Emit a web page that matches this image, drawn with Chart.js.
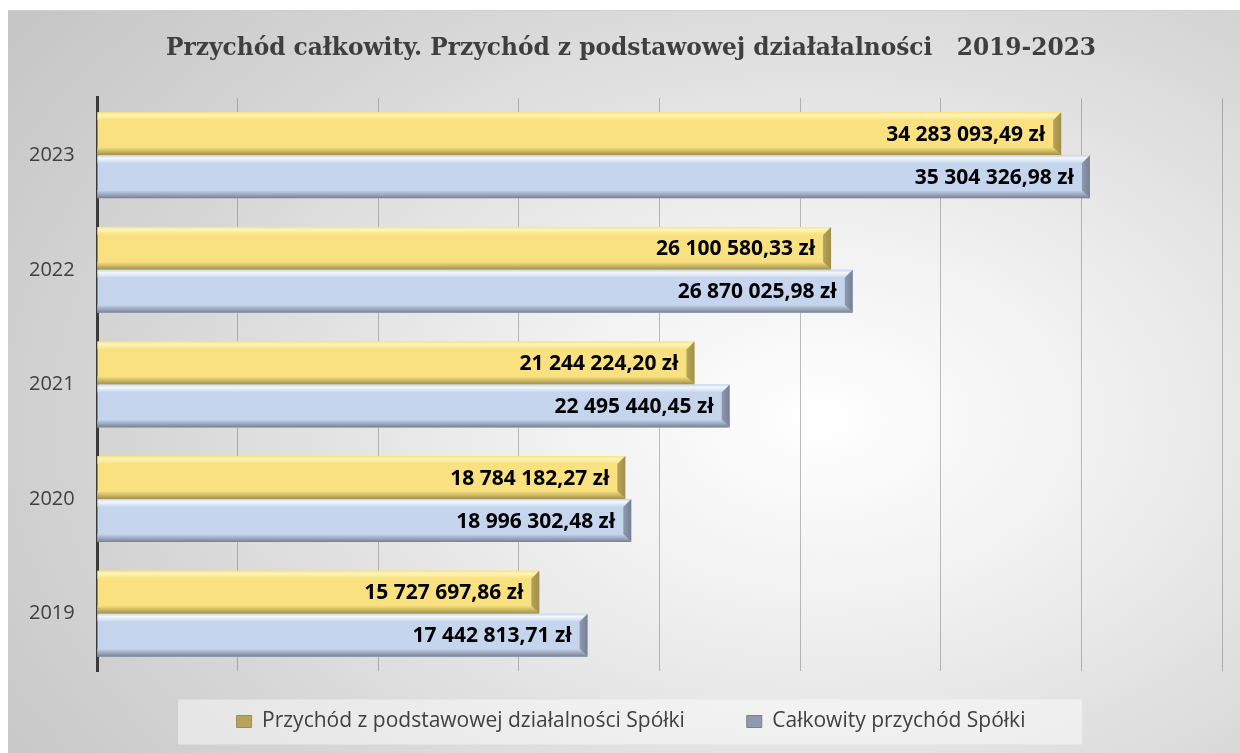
<!DOCTYPE html>
<html>
<head>
<meta charset="utf-8">
<script src="https://cdn.jsdelivr.net/npm/chart.js@4/dist/chart.umd.min.js"></script>
<style>
  html, body { margin: 0; padding: 0; background: #ffffff; }
  #wrap {
    position: absolute; left: 8px; top: 10px; width: 1232px; height: 743px;
    background: radial-gradient(ellipse 80% 90% at 66% 55%, #ffffff 0%, #f1f1f1 28%, #d6d6d6 70%, #c6c6c6 100%);
    border-top: 1px solid #d0d0d0;
  }
</style>
</head>
<body>
<div id="wrap"><canvas id="myChart" width="1232" height="743"></canvas></div>
<script>
const years = ['2023', '2022', '2021', '2020', '2019'];
const coreRevenue = [34283093.49, 26100580.33, 21244224.20, 18784182.27, 15727697.86];
const totalRevenue = [35304326.98, 26870025.98, 22495440.45, 18996302.48, 17442813.71];

const titleText = 'Przychód całkowity. Przychód z podstawowej działałalności   2019-2023';
const coreLabel = 'Przychód z podstawowej działalności Spółki';
const totalLabel = 'Całkowity przychód Spółki';

const yellow = { base: '#f8e17e', light: '#fef5b8', dark: '#a08e4a', end: '#b7a35a' };
const blue = { base: '#c5d5ee', light: '#f5f8fd', dark: '#768092', end: '#8f9ab0' };

const legendPad = 40;
const legendFont = 21;

function fmt(v) {
    const parts = v.toFixed(2).split('.');
    return parts[0].replace(/\B(?=(\d{3})+(?!\d))/g, ' ') + ',' + parts[1] + ' zł';
}

// bevel look of the bars + value labels
const bevelPlugin = {
    id: 'bevel',
    afterDatasetsDraw(chart) {
        const ctx = chart.ctx;
        chart.data.datasets.forEach((ds, di) => {
            const meta = chart.getDatasetMeta(di);
            const c = ds.bevel;
            meta.data.forEach((bar, i) => {
                const l = bar.base, r = bar.x;
                const t = bar.y - bar.height / 2, b = bar.y + bar.height / 2;
                const bv = 8;
                ctx.save();
                let g = ctx.createLinearGradient(0, t, 0, t + bv);
                g.addColorStop(0, c.base);
                g.addColorStop(0.35, c.light);
                g.addColorStop(1, c.base);
                ctx.fillStyle = g;
                ctx.beginPath();
                ctx.moveTo(l, t); ctx.lineTo(r, t); ctx.lineTo(r - bv, t + bv); ctx.lineTo(l, t + bv);
                ctx.closePath(); ctx.fill();

                g = ctx.createLinearGradient(0, b - bv, 0, b);
                g.addColorStop(0, c.base);
                g.addColorStop(1, c.dark);
                ctx.fillStyle = g;
                ctx.beginPath();
                ctx.moveTo(l, b); ctx.lineTo(r, b); ctx.lineTo(r - bv, b - bv); ctx.lineTo(l, b - bv);
                ctx.closePath(); ctx.fill();

                g = ctx.createLinearGradient(r - bv, 0, r, 0);
                g.addColorStop(0, c.end);
                g.addColorStop(1, c.dark);
                ctx.fillStyle = g;
                ctx.beginPath();
                ctx.moveTo(r, t); ctx.lineTo(r, b); ctx.lineTo(r - bv, b - bv); ctx.lineTo(r - bv, t + bv);
                ctx.closePath(); ctx.fill();

                ctx.fillStyle = '#000000';
                ctx.font = 'bold 21px "Open Sans"';
                ctx.textAlign = 'right';
                ctx.textBaseline = 'middle';
                ctx.fillText(fmt(ds.data[i]), r - 16, bar.y + 1);
                ctx.restore();
            });
        });
    }
};

// light box behind the legend
const legendBox = {
    id: 'legendBox',
    beforeDraw(chart) {
        const lg = chart.legend;
        if (!lg) return;
        const ctx = chart.ctx;
        const cy = lg.top + legendPad + legendFont / 2;
        ctx.save();
        ctx.fillStyle = 'rgba(255,255,255,0.45)';
        ctx.fillRect(170, cy - 22, 904, 45);
        ctx.restore();
    }
};

const ctx = document.getElementById('myChart').getContext('2d');

const data = {
    labels: years,
    datasets: [{
            label: coreLabel,
            data: coreRevenue,
            backgroundColor: yellow.base,
            borderWidth: 0,
            bevel: yellow
        },
        {
            label: totalLabel,
            data: totalRevenue,
            backgroundColor: blue.base,
            borderWidth: 0,
            bevel: blue
        }
    ]
};

const options = {
    indexAxis: 'y',
    responsive: false,
    animation: false,
    devicePixelRatio: 1,
    layout: { padding: { left: 32, right: 18, top: 0, bottom: 12 } },
    datasets: { bar: { categoryPercentage: 0.75, barPercentage: 1.0 } },
    scales: {
        x: {
            min: 0,
            max: 40000000,
            z: 1,
            ticks: { display: false, stepSize: 5000000 },
            grid: { color: 'rgba(110,110,110,0.45)', lineWidth: 1, drawTicks: false },
            border: { display: false },
            afterFit(scale) { scale.height = 0; }
        },
        y: {
            z: 1,
            grid: { display: false, drawTicks: false },
            border: { display: true, color: '#3a3a3a', width: 3 },
            // mirrored with negative padding so the year labels sit left of the axis
            ticks: { mirror: true, padding: -68, color: '#404040', font: { family: 'Open Sans', size: 20 } },
            afterFit(scale) { scale.width = 57; }
        }
    },
    plugins: {
        title: {
            display: true,
            text: titleText,
            color: '#3f3f3f',
            font: { family: 'DejaVu Serif', size: 23.3, weight: 'bold', lineHeight: 1.2 },
            padding: { top: 24, bottom: 35 }
        },
        legend: {
            position: 'bottom',
            labels: {
                color: '#404040',
                font: { family: 'Open Sans', size: legendFont },
                boxWidth: 15,
                boxHeight: 12,
                padding: legendPad,
                generateLabels(chart) {
                    return chart.data.datasets.map((ds, i) => ({
                        text: i === 0 ? ds.label + '    ' : ds.label,
                        fillStyle: ds.bevel.end,
                        strokeStyle: ds.bevel.dark,
                        lineWidth: 1,
                        fontColor: '#404040',
                        datasetIndex: i,
                        hidden: false
                    }));
                }
            }
        },
        tooltip: { enabled: false }
    }
};

var myChart = new Chart(ctx, {
    type: 'bar',
    data: data,
    options: options,
    plugins: [legendBox, bevelPlugin]
});
</script>
</body>
</html>
